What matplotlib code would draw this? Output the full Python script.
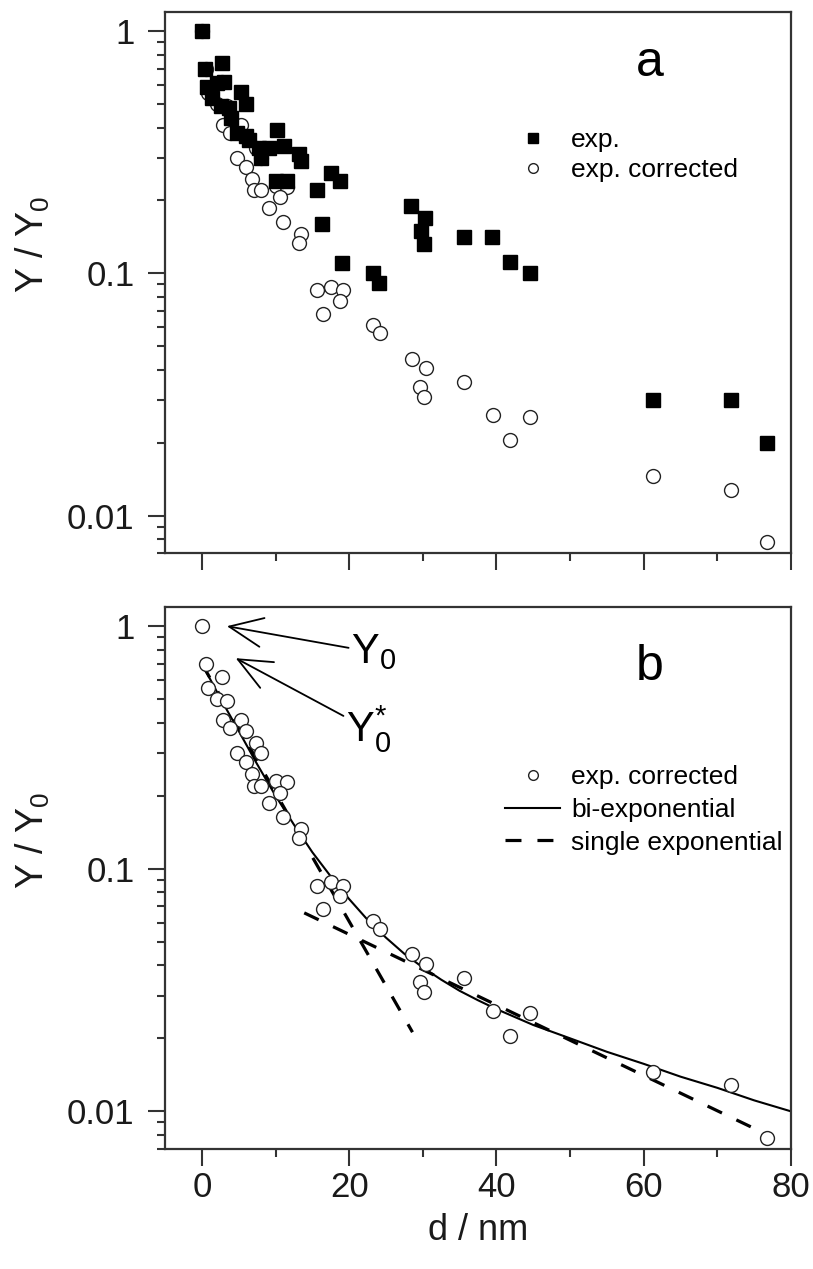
import matplotlib
matplotlib.use('Agg')
import matplotlib.pyplot as plt

plt.rcParams['font.family'] = ['Liberation Sans', 'DejaVu Sans']
plt.rcParams['mathtext.fontset'] = 'custom'
plt.rcParams['mathtext.rm'] = 'Liberation Sans'
plt.rcParams['mathtext.it'] = 'Liberation Sans:italic'

# exp. (filled squares), panel a
d_exp = [0, 0.4, 2.7, 0.7, 2.0, 3.0, 1.4, 5.3, 6.0, 2.6, 3.7, 3.9, 10.2, 4.8, 6.0, 6.4,
         11.2, 7.8, 9.1, 13.2, 13.5, 8.0, 17.6, 18.7, 10.1, 11.6, 15.7, 16.3, 19.0,
         23.3, 24.1, 28.4, 30.3, 29.7, 30.1, 35.6, 39.4, 41.8, 44.5, 61.2, 71.9, 76.7]
y_exp = [1.0, 0.70, 0.74, 0.59, 0.61, 0.62, 0.53, 0.56, 0.50, 0.49, 0.48, 0.44, 0.39, 0.38, 0.37, 0.355,
         0.335, 0.33, 0.33, 0.31, 0.29, 0.30, 0.26, 0.24, 0.24, 0.24, 0.22, 0.16, 0.11,
         0.10, 0.091, 0.19, 0.17, 0.15, 0.132, 0.141, 0.141, 0.111, 0.10, 0.030, 0.030, 0.020]

# exp. corrected (open circles), both panels
d_corr = [0, 0.5, 2.7, 0.8, 2.1, 3.4, 2.9, 5.3, 3.8, 6.0, 7.3, 4.8, 8.0, 6.0, 6.8, 7.1, 8.0,
          10.1, 11.6, 10.6, 9.1, 11.0, 13.5, 13.2, 15.7, 17.6, 19.2, 18.7, 16.4, 23.3, 24.2,
          28.5, 30.4, 29.6, 30.1, 35.6, 39.5, 44.5, 41.8, 61.3, 71.9, 76.7]
y_corr = [1.0, 0.70, 0.62, 0.555, 0.50, 0.49, 0.41, 0.41, 0.38, 0.37, 0.33, 0.30, 0.30, 0.275, 0.245, 0.22, 0.22,
          0.23, 0.227, 0.206, 0.187, 0.163, 0.146, 0.134, 0.085, 0.088, 0.085, 0.077, 0.068, 0.061, 0.0565,
          0.0445, 0.0405, 0.034, 0.031, 0.0355, 0.026, 0.0254, 0.0205, 0.0146, 0.0128, 0.0078]

# bi-exponential fit curve
d_bi = [0, 1.25, 2.5, 5, 7.5, 10, 12.5, 15, 17.5, 20, 22.5, 25, 27.5, 30, 32.5, 35, 37.5,
        40, 45, 50, 55, 60, 65, 70, 75, 80]
y_bi = [0.70, 0.595, 0.505, 0.37, 0.27, 0.20, 0.152, 0.117, 0.093, 0.075, 0.0616, 0.052, 0.0446,
        0.0392, 0.0349, 0.0314, 0.0287, 0.0264, 0.0227, 0.020, 0.0176, 0.0157, 0.0139, 0.0125,
        0.0111, 0.0100]

# single exponential fits (two branches)
d_fast = [0, 28.6]
y_fast = [0.70, 0.0212]
d_slow = [13.9, 77.2]
y_slow = [0.0658, 0.0079]

fig = plt.figure(figsize=(8.13, 12.69), dpi=100)
ax1 = fig.add_axes([0.203, 0.5642, 0.770, 0.4263])
ax2 = fig.add_axes([0.203, 0.0946, 0.770, 0.4271])

ylab = r'Y / Y$_\mathregular{0}$'

for ax in (ax1, ax2):
    ax.set_yscale('log')
    ax.set_xlim(-5, 80)
    ax.set_ylim(0.007, 1.2)
    ax.set_xticks([0, 20, 40, 60, 80])
    ax.set_xticks([10, 30, 50, 70], minor=True)
    ax.set_yticks([0.01, 0.1, 1])
    ax.set_yticklabels(['0.01', '0.1', '1'])
    ax.tick_params(which='major', direction='out', length=12, width=1.5, labelsize=25,
                   top=False, right=False, colors='#333333', labelcolor='#1a1a1a')
    ax.tick_params(which='minor', direction='out', length=6, width=1.5,
                   top=False, right=False, colors='#333333')
    ax.tick_params(axis='y', which='major', pad=10)
    ax.tick_params(axis='x', which='major', pad=4)
    for s in ax.spines.values():
        s.set_linewidth(1.6)
        s.set_color('#333333')
    ax.set_ylabel(ylab, fontsize=27, color='#1a1a1a')
    ax.yaxis.set_label_coords(-0.18, 0.57)

ax1.tick_params(axis='x', labelbottom=False)

# panel a
h_corr = ax1.plot(d_corr, y_corr, 'o', mfc='white', mec='#222222', mew=1.0, ms=10, ls='none',
                  label='exp. corrected', zorder=2)[0]
h_exp = ax1.plot(d_exp, y_exp, 's', color='black', ms=10.5, ls='none', label='exp.',
                 zorder=3)[0]
ax1.text(0.775, 0.906, 'a', transform=ax1.transAxes, fontsize=36, ha='center', va='center')
ax1.legend(handles=[h_exp, h_corr], loc='upper left', bbox_to_anchor=(0.543, 0.786),
           frameon=False, fontsize=19, markerscale=0.7, handlelength=2.1, handletextpad=0.4,
           labelspacing=0.25, borderpad=0, borderaxespad=0)

# panel b
ax2.plot(d_corr, y_corr, 'o', mfc='white', mec='#222222', mew=1.0, ms=10, ls='none',
         label='exp. corrected', zorder=3)
ax2.plot(d_bi, y_bi, '-', color='black', lw=1.5, label='bi-exponential')
ax2.plot(d_fast, y_fast, color='black', lw=2.3, dashes=(5, 5), label='single exponential')
ax2.plot(d_slow, y_slow, color='black', lw=2.3, dashes=(5, 5))
ax2.text(0.775, 0.889, 'b', transform=ax2.transAxes, fontsize=36, ha='center', va='center')
ax2.legend(loc='upper left', bbox_to_anchor=(0.543, 0.708), frameon=False, fontsize=19,
           markerscale=0.7, handlelength=2.1, handletextpad=0.4, labelspacing=0.33,
           borderpad=0, borderaxespad=0)

ax2.annotate(r'Y$_\mathregular{0}$', xy=(3.4, 1.0), xytext=(20.3, 0.78), fontsize=30,
             va='center', ha='left',
             arrowprops=dict(arrowstyle='->,head_length=0.8,head_width=0.35', color='black',
                             lw=1.3, shrinkA=0, shrinkB=0))
ax2.annotate(r'Y$_\mathregular{0}^\mathregular{*}$', xy=(4.6, 0.738), xytext=(19.6, 0.375), fontsize=30,
             va='center', ha='left',
             arrowprops=dict(arrowstyle='->,head_length=0.8,head_width=0.35', color='black',
                             lw=1.3, shrinkA=0, shrinkB=0))

ax2.set_xlabel('d / nm', fontsize=26, color='#1a1a1a', labelpad=6)

fig.savefig('out.png', dpi=100)
